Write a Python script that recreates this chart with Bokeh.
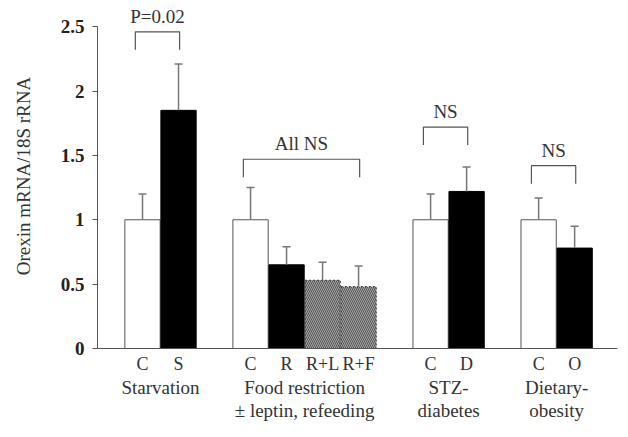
from bokeh.plotting import figure
from bokeh.models import LinearAxis, FixedTicker, Range1d, ColumnDataSource
from bokeh.core.properties import value
from bokeh.embed import file_html
from bokeh.resources import INLINE

# ---- data ----
bar_labels = ["C", "S", "C", "R", "R+L", "R+F", "C", "D", "C", "O"]
group_names = ["Starvation", "Food restriction\n\u00b1 leptin, refeeding", "STZ-\ndiabetes", "Dietary-\nobesity"]
group_sizes = [2, 4, 2, 2]
means = [1.0, 1.85, 1.0, 0.65, 0.53, 0.48, 1.0, 1.22, 1.0, 0.78]
errors = [0.20, 0.36, 0.25, 0.14, 0.14, 0.16, 0.20, 0.19, 0.17, 0.17]
kinds = ["control", "treated", "control", "treated", "hatched", "hatched", "control", "treated", "control", "treated"]
y_ticks = [0, 0.5, 1, 1.5, 2, 2.5]
y_tick_labels = ["0", "0.5", "1", "1.5", "2", "2.5"]

# significance annotations
sig_texts = ["P=0.02", "All NS", "NS", "NS"]
sig_groups = [0, 1, 2, 3]
sig_heights = [2.46, 1.47, 1.72, 1.42]

# ---- layout of categories ----
positions = []
group_centers = []
x = 1.25
for gs in group_sizes:
    g = [x + i for i in range(gs)]
    positions.extend(g)
    group_centers.append(sum(g) / len(g))
    x = g[-1] + 2

fill = {"control": "white", "treated": "black", "hatched": "#a8a8a8"}
line = {"control": "#555555", "treated": "black", "hatched": "#333333"}
FONT = "Liberation Serif"

p = figure(width=620, height=429, output_backend="svg", toolbar_location=None,
           x_range=Range1d(0, 14.44), y_range=Range1d(0, 2.68),
           min_border_left=97, min_border_right=3, min_border_top=3, min_border_bottom=81)
p.outline_line_color = None
p.xgrid.visible = False
p.ygrid.visible = False
p.background_fill_color = "white"

for k in ["control", "treated", "hatched"]:
    idx = [i for i, kk in enumerate(kinds) if kk == k]
    src = ColumnDataSource(dict(x=[positions[i] for i in idx], top=[means[i] for i in idx]))
    kw = {}
    if k == "hatched":
        kw = dict(hatch_pattern="\\", hatch_color="#505050", hatch_scale=4, hatch_weight=1,
                  line_dash="2 2")
    p.vbar(x="x", top="top", bottom=0, width=0.98, source=src,
           fill_color=fill[k], line_color=line[k], line_width=1, **kw)

# error bars (upper only)
tops = [m + e for m, e in zip(means, errors)]
p.segment(x0=positions, y0=means, x1=positions, y1=tops, line_color="#777777", line_width=1.5)
p.scatter(x=positions, y=tops, marker="dash", size=8, line_color="#777777", line_width=1.5)

# brackets
gi = 0
starts = []
for gs in group_sizes:
    starts.append(gi)
    gi += gs
for t, g, h in zip(sig_texts, sig_groups, sig_heights):
    first = positions[starts[g]] - 0.2
    last = positions[starts[g] + group_sizes[g] - 1] + 0.03
    leg = 0.14
    p.line(x=[first, first, last, last], y=[h - leg, h, h, h - leg], line_color="#555555", line_width=1.2)
    p.text(x=[(first + last) / 2], y=[h + 0.04], text=[t], text_align="center", text_baseline="bottom",
           text_font=value(FONT), text_font_size="19px", text_color="#333333")

# axes
p.yaxis.ticker = FixedTicker(ticks=y_ticks)
p.yaxis.major_label_overrides = {t: l for t, l in zip(y_ticks, y_tick_labels)}
p.yaxis.bounds = (0, 2.5)
p.yaxis.minor_tick_line_color = None
p.yaxis.major_tick_in = 0
p.yaxis.major_tick_out = 5
p.yaxis.axis_line_color = "#555555"
p.yaxis.major_tick_line_color = "#555555"
p.yaxis.major_label_text_font = FONT
p.yaxis.major_label_text_font_style = "bold"
p.yaxis.major_label_text_font_size = "19px"
p.yaxis.major_label_text_color = "#222222"
p.yaxis.major_label_standoff = 8
p.yaxis.axis_label = "Orexin mRNA/18S rRNA"
p.yaxis.axis_label_text_font = FONT
p.yaxis.axis_label_text_font_style = "normal"
p.yaxis.axis_label_text_font_size = "19px"
p.yaxis.axis_label_text_color = "#333333"
p.yaxis.axis_label_standoff = 24

p.xaxis.ticker = FixedTicker(ticks=positions)
p.xaxis.major_label_overrides = {pos: l for pos, l in zip(positions, bar_labels)}
p.xaxis.major_tick_line_color = None
p.xaxis.minor_tick_line_color = None
p.xaxis.major_tick_in = 0
p.xaxis.major_tick_out = 0
p.xaxis.minor_tick_in = 0
p.xaxis.minor_tick_out = 0
p.xaxis.axis_line_color = "#555555"
p.xaxis.major_label_text_font = FONT
p.xaxis.major_label_text_font_size = "18px"
p.xaxis.major_label_text_line_height = 1.0
p.xaxis.major_label_text_color = "#333333"
p.xaxis.major_label_standoff = 5

gax = LinearAxis(ticker=FixedTicker(ticks=group_centers),
                 major_label_overrides={c: n for c, n in zip(group_centers, group_names)})
gax.axis_line_color = None
gax.major_tick_line_color = None
gax.minor_tick_line_color = None
gax.major_tick_in = 0
gax.major_tick_out = 0
gax.minor_tick_in = 0
gax.minor_tick_out = 0
gax.major_label_text_font = FONT
gax.major_label_text_font_size = "19px"
gax.major_label_text_line_height = 1.1
gax.major_label_text_color = "#333333"
gax.major_label_standoff = 0
p.add_layout(gax, "below")

open("out.html", "w").write(file_html(p, INLINE))
